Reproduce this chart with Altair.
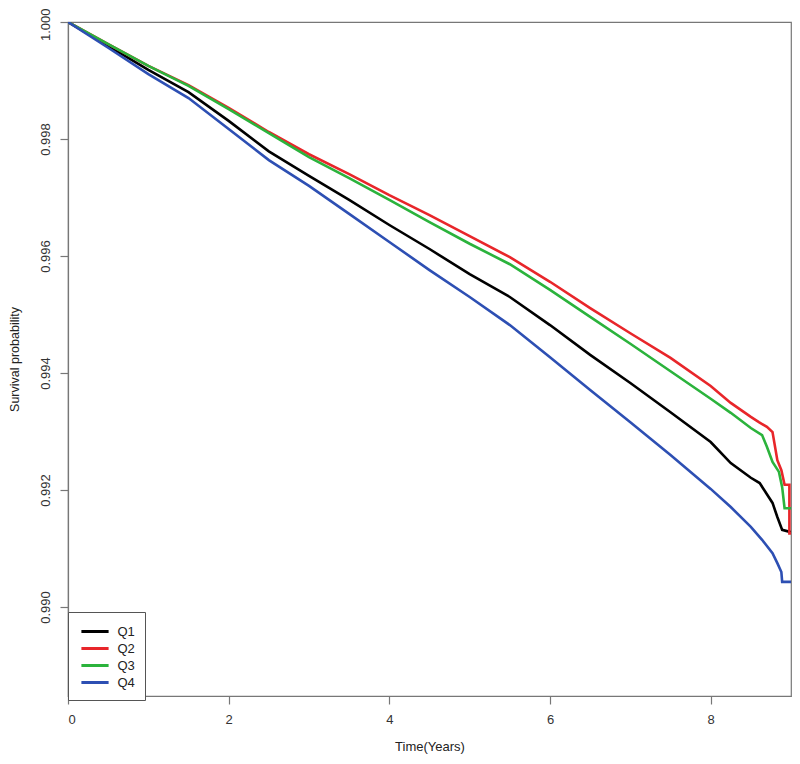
import altair as alt
import pandas as pd

# Kaplan-Meier style survival curves
q1_t = [0, 0.5, 1, 1.5, 2, 2.5, 3, 3.5, 4, 4.5, 5, 5.5, 6, 6.5, 7, 7.5, 8, 8.25, 8.5,
        8.61, 8.69, 8.77, 8.83, 8.89, 9.0]
q1_s = [1.0, 0.99959, 0.99918, 0.99880, 0.99831, 0.99779, 0.99737, 0.99696, 0.99653,
        0.99612, 0.99569, 0.99530, 0.99482, 0.99431, 0.99383, 0.99333, 0.99282, 0.99246,
        0.99221, 0.99212, 0.99195, 0.99178, 0.99154, 0.99132, 0.99128]

q2_t = [0, 0.5, 1, 1.5, 2, 2.5, 3, 3.5, 4, 4.5, 5, 5.5, 6, 6.5, 7, 7.5, 8, 8.25, 8.5,
        8.6, 8.7, 8.77, 8.83, 8.88, 8.92, 8.98, 8.98, 9.0]
q2_s = [1.0, 0.99962, 0.99925, 0.99892, 0.99853, 0.99812, 0.99774, 0.99740, 0.99704,
        0.99670, 0.99634, 0.99598, 0.99556, 0.99511, 0.99468, 0.99426, 0.99378, 0.99349,
        0.99325, 0.99316, 0.99308, 0.99299, 0.99251, 0.99234, 0.99209, 0.99209, 0.99126,
        0.99126]

q3_t = [0, 0.5, 1, 1.5, 2, 2.5, 3, 3.5, 4, 4.5, 5, 5.5, 6, 6.5, 7, 7.5, 8, 8.25, 8.5,
        8.64, 8.7, 8.77, 8.85, 8.89, 8.92, 9.0]
q3_s = [1.0, 0.99962, 0.99925, 0.99891, 0.99851, 0.99810, 0.99769, 0.99733, 0.99696,
        0.99658, 0.99621, 0.99586, 0.99542, 0.99496, 0.99450, 0.99403, 0.99356, 0.99332,
        0.99306, 0.99294, 0.99274, 0.99248, 0.99231, 0.99205, 0.99169, 0.99169]

q4_t = [0, 0.5, 1, 1.5, 2, 2.5, 3, 3.5, 4, 4.5, 5, 5.5, 6, 6.5, 7, 7.5, 8, 8.25, 8.5,
        8.64, 8.77, 8.83, 8.88, 8.89, 9.0]
q4_s = [1.0, 0.99956, 0.99911, 0.99870, 0.99817, 0.99764, 0.99720, 0.99672, 0.99624,
        0.99576, 0.99530, 0.99482, 0.99427, 0.99371, 0.99316, 0.99260, 0.99202, 0.99171,
        0.99137, 0.99115, 0.99092, 0.99075, 0.99060, 0.99043, 0.99043]

groups = ["Q1", "Q2", "Q3", "Q4"]
colors = ["#000000", "#e8262a", "#2bb33c", "#2d4fb3"]
x_ticks = [0, 2, 4, 6, 8]
y_ticks = [0.990, 0.992, 0.994, 0.996, 0.998, 1.000]

rows = []
for g, ts, ss in zip(groups, [q1_t, q2_t, q3_t, q4_t], [q1_s, q2_s, q3_s, q4_s]):
    for i, (t, s) in enumerate(zip(ts, ss)):
        rows.append({"group": g, "time": t, "surv": s, "idx": i})
df = pd.DataFrame(rows)

font = "Liberation Sans"
is_top = "datum.value >= 0.9999"

chart = alt.Chart(df).mark_line(strokeWidth=2.6, clip=True).encode(
    x=alt.X("time:Q", scale=alt.Scale(domain=[0, 9], nice=False, zero=False),
            axis=alt.Axis(values=x_ticks, title="Time(Years)", grid=False, format="d",
                          tickSize=8, labelPadding=9, titlePadding=14, titleFontSize=13)),
    y=alt.Y("surv:Q", scale=alt.Scale(domain=[0.98848, 1.0], nice=False, zero=False),
            axis=alt.Axis(values=y_ticks, title="Survival probability", grid=False,
                          format=".3f", tickSize=8, labelAngle=270,
                          labelAlign=alt.condition(is_top, alt.value("right"), alt.value("center")),
                          labelOffset=alt.condition(is_top, alt.value(-14), alt.value(0)),
                          labelBaseline="bottom", labelPadding=8,
                          titlePadding=18, titleFontSize=12.5)),
    color=alt.Color("group:N", scale=alt.Scale(domain=groups, range=colors),
                    legend=alt.Legend(title=None, orient="none", legendX=0, legendY=590,
                                      strokeColor="#555555", fillColor="white",
                                      padding=10, symbolType="M-1.7,0H1.7",
                                      symbolStrokeWidth=3, symbolSize=256,
                                      symbolOffset=7.5,
                                      labelFontSize=13, labelFont=font,
                                      labelColor="#222222", labelOffset=13,
                                      rowPadding=0)),
    order="idx:Q",
).properties(
    width=723, height=674,
    autosize=alt.AutoSizeParams(type="none"),
    padding={"left": 60, "top": 14, "right": 1, "bottom": 60},
).configure_view(
    stroke="#777777", strokeWidth=1.2
).configure_axis(
    domainColor="#777777", tickColor="#777777", labelColor="#333333",
    titleColor="#222222", labelFont=font, titleFont=font, labelFontSize=13,
    titleFontWeight="normal", domainWidth=1.2, tickWidth=1.2,
)

chart.save("out.html", embed_options={"renderer": "svg", "actions": False})
